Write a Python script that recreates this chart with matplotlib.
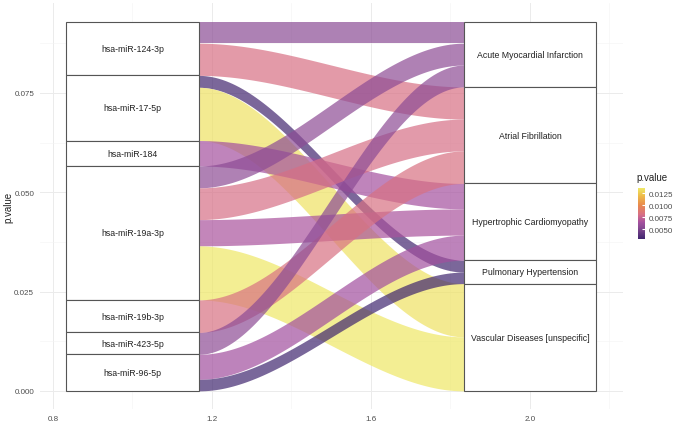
import numpy as np
import matplotlib.pyplot as plt
from matplotlib import colors, cm

plt.rcParams['font.family'] = ['Liberation Sans', 'DejaVu Sans']

# strata (top to bottom)
mirnas = ['hsa-miR-124-3p', 'hsa-miR-17-5p', 'hsa-miR-184', 'hsa-miR-19a-3p',
          'hsa-miR-19b-3p', 'hsa-miR-423-5p', 'hsa-miR-96-5p']
diseases = ['Acute Myocardial Infarction', 'Atrial Fibrillation',
            'Hypertrophic Cardiomyopathy', 'Pulmonary Hypertension',
            'Vascular Diseases [unspecific]']

# one row per flow
flow_mirna = ['hsa-miR-124-3p', 'hsa-miR-124-3p', 'hsa-miR-17-5p', 'hsa-miR-17-5p',
              'hsa-miR-184', 'hsa-miR-19a-3p', 'hsa-miR-19a-3p', 'hsa-miR-19a-3p',
              'hsa-miR-19a-3p', 'hsa-miR-19b-3p', 'hsa-miR-423-5p', 'hsa-miR-96-5p',
              'hsa-miR-96-5p']
flow_disease = ['Acute Myocardial Infarction', 'Atrial Fibrillation',
                'Pulmonary Hypertension', 'Vascular Diseases [unspecific]',
                'Hypertrophic Cardiomyopathy', 'Acute Myocardial Infarction',
                'Atrial Fibrillation', 'Hypertrophic Cardiomyopathy',
                'Vascular Diseases [unspecific]', 'Atrial Fibrillation',
                'Acute Myocardial Infarction', 'Hypertrophic Cardiomyopathy',
                'Pulmonary Hypertension']
flow_p = [0.0054, 0.0081, 0.0030, 0.0134, 0.0064, 0.0055, 0.0080, 0.0066,
          0.0136, 0.0082, 0.0055, 0.0063, 0.0029]

n = len(flow_p)
total = sum(flow_p)
w = 1 / 3

# muted plasma-like scale, as it looks in the picture
cmap = colors.LinearSegmentedColormap.from_list('muted_plasma', [
    (0.0, '#40266f'), (0.234, '#8b4c94'), (0.33, '#a550a0'),
    (0.48, '#d76f86'), (0.66, '#e8884e'), (0.85, '#eebb48'), (1.0, '#eee766')])
norm = colors.Normalize(min(flow_p), max(flow_p))


# stack flows inside each stratum (first level on top, like ggplot)
def stack(groups, key, sub):
    tops = {}
    y = total
    for g in groups:
        idx = [i for i in range(n) if key[i] == g]
        idx.sort(key=lambda i: sub(i))
        for i in idx:
            tops[i] = y
            y -= flow_p[i]
    return tops


left_top = stack(mirnas, flow_mirna, lambda i: diseases.index(flow_disease[i]))
right_top = stack(diseases, flow_disease, lambda i: mirnas.index(flow_mirna[i]))

fig = plt.figure(figsize=(6.85, 4.27), dpi=100)
ax = fig.add_axes([0.058, 0.039, 0.851, 0.951])

x0, x1 = 1 + w / 2, 2 - w / 2
t = np.linspace(0, 1, 80)
s = 3 * t**2 - 2 * t**3
xs = x0 + (x1 - x0) * t
for i in range(n):
    yl, yr = left_top[i], right_top[i]
    top = yl + (yr - yl) * s
    bot = top - flow_p[i]
    ax.fill_between(xs, bot, top, color=cmap(norm(flow_p[i])), alpha=0.7,
                    linewidth=0, zorder=2)


# strata boxes + labels
def draw_strata(xc, groups, key):
    y = total
    for g in groups:
        h = sum(flow_p[i] for i in range(n) if key[i] == g)
        ax.add_patch(plt.Rectangle((xc - w / 2, y - h), w, h, facecolor='white',
                                   edgecolor='#555555', linewidth=0.8, zorder=3))
        ax.text(xc, y - h / 2, g, ha='center', va='center', fontsize=6.3,
                color='#222222', zorder=4)
        y -= h


draw_strata(1, mirnas, flow_mirna)
draw_strata(2, diseases, flow_disease)

pad_y = total * 0.05
ax.set_xlim(1 - w / 2 - 0.0667, 2 + w / 2 + 0.0667)
ax.set_ylim(-pad_y, total + pad_y)
ax.set_xticks([0.8, 1.2, 1.6, 2.0])
ax.set_xticks([1.0, 1.4, 1.8, 2.2], minor=True)
ax.set_yticks([0, 0.025, 0.05, 0.075])
ax.set_yticks([0.0125, 0.0375, 0.0625, 0.0875], minor=True)
ax.set_yticklabels(['0.000', '0.025', '0.050', '0.075'])
ax.grid(which='major', color='#ebebeb', linewidth=0.7, zorder=0)
ax.grid(which='minor', color='#f3f3f3', linewidth=0.4, zorder=0)
ax.set_axisbelow(True)
for sp in ax.spines.values():
    sp.set_visible(False)
ax.tick_params(which='both', length=0, labelsize=5.8, labelcolor='#4d4d4d', pad=4)
ax.set_ylabel('p.value', fontsize=7, color='#222222')
ax.yaxis.set_label_coords(-0.045, 0.5)

# colour bar legend
cax = fig.add_axes([0.931, 0.438, 0.0102, 0.119])
cb = fig.colorbar(cm.ScalarMappable(norm=norm, cmap=cmap), cax=cax)
cb.outline.set_visible(False)
cb.set_ticks([0.005, 0.0075, 0.01, 0.0125])
cb.set_ticklabels(['0.0050', '0.0075', '0.0100', '0.0125'])
cax.tick_params(length=2, color='white', direction='in', labelsize=5.8,
                labelcolor='#4d4d4d', pad=3)
fig.text(0.929, 0.572, 'p.value', fontsize=7, color='#222222', ha='left', va='bottom')

fig.savefig('out.png', dpi=100)
